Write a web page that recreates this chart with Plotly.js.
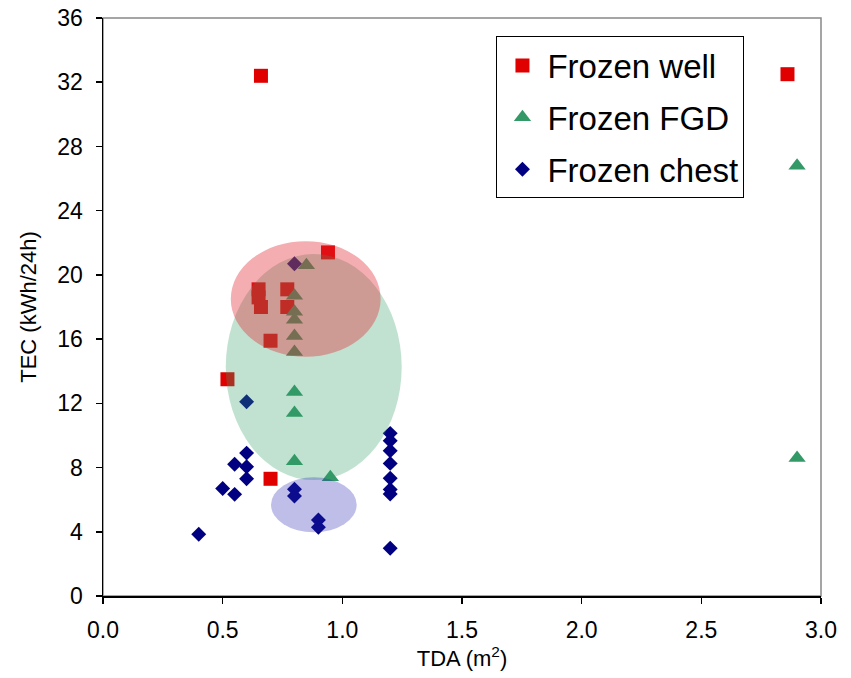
<!DOCTYPE html>
<html>
<head>
<meta charset="utf-8">
<script src="https://cdn.plot.ly/plotly-3.0.1.min.js"></script>
<style>html,body{margin:0;padding:0;background:#fff;}#chart{width:851px;height:678px;}</style>
</head>
<body>
<div id="chart"></div>
<script>
// Frozen well (red squares)
const wellX = [0.66, 2.86, 0.94, 0.65, 0.65, 0.66, 0.77, 0.77, 0.70, 0.52, 0.70];
const wellY = [32.4, 32.5, 21.4, 19.1, 18.6, 18.0, 19.1, 18.0, 15.9, 13.5, 7.3];
// Frozen FGD (green triangles)
const fgdX = [0.85, 0.80, 0.80, 0.80, 0.80, 0.80, 0.80, 0.80, 0.80, 0.95, 2.90, 2.90];
const fgdY = [20.6, 18.7, 17.7, 17.2, 16.2, 15.2, 12.7, 11.4, 8.4, 7.4, 26.8, 8.6];
// Frozen chest (blue diamonds)
const chestX = [0.80, 0.60, 0.60, 0.55, 0.60, 0.60, 0.50, 0.55, 0.80, 0.80, 0.90, 0.90, 0.40,
                1.20, 1.20, 1.20, 1.20, 1.20, 1.20, 1.20, 1.20];
const chestY = [20.7, 12.1, 8.9, 8.2, 8.05, 7.3, 6.7, 6.33, 6.65, 6.23, 4.73, 4.28, 3.85,
                10.13, 9.67, 9.05, 8.26, 7.33, 6.64, 6.35, 2.97];
// Highlight ellipses [x0, x1, y0, y1] per group
const ellipseWell = [0.534, 1.160, 14.9, 22.1];
const ellipseFGD = [0.513, 1.248, 7.22, 21.3];
const ellipseChest = [0.702, 1.060, 3.97, 7.39];
const xTicks = [0, 0.5, 1.0, 1.5, 2.0, 2.5, 3.0];
const yTicks = [0, 4, 8, 12, 16, 20, 24, 28, 32, 36];

const FONT = 'Arial, "Liberation Sans", sans-serif';

const traces = [
  {x: wellX, y: wellY, type: 'scatter', mode: 'markers', name: 'Frozen well', legendgroup: 'a',
   marker: {symbol: 'square', size: 14, color: '#e00000'}},
  {x: fgdX, y: fgdY, type: 'scatter', mode: 'markers', name: 'Frozen FGD', legendgroup: 'b',
   marker: {symbol: 'triangle-up', size: 15, color: '#339966'}},
  {x: chestX, y: chestY, type: 'scatter', mode: 'markers', name: 'Frozen chest', legendgroup: 'c',
   marker: {symbol: 'diamond', size: 11.5, color: '#000080'}}
];

function ell(e, color) {
  return {type: 'circle', xref: 'x', yref: 'y', x0: e[0], x1: e[1], y0: e[2], y1: e[3],
          layer: 'above', fillcolor: color, line: {width: 0}};
}

const layout = {
  width: 851, height: 678,
  margin: {l: 103, r: 30, t: 18, b: 82},
  paper_bgcolor: '#fff', plot_bgcolor: '#fff',
  font: {family: FONT, size: 23, color: '#000'},
  showlegend: true,
  legend: {x: 0.548, y: 0.968, xanchor: 'left', yanchor: 'top',
           bordercolor: '#000', borderwidth: 1, bgcolor: '#fff', itemwidth: 40,
           font: {family: FONT, size: 33, color: '#000'}, tracegroupgap: 6},
  xaxis: {range: [0, 3], tickvals: xTicks, ticktext: xTicks.map(v => v.toFixed(1)),
          ticks: 'outside', ticklen: 6, tickcolor: '#000', tickwidth: 1.5, ticklabelstandoff: 7,
          tickfont: {family: FONT, size: 23},
          showline: true, linecolor: '#000', linewidth: 1.5, showgrid: false, zeroline: false,
          title: {text: 'TDA (m<sup>2</sup>)', font: {family: FONT, size: 22}, standoff: 7}},
  yaxis: {range: [0, 36], tickvals: yTicks,
          ticks: 'outside', ticklen: 6, tickcolor: '#000', tickwidth: 1.5, ticklabelstandoff: 8,
          tickfont: {family: FONT, size: 23},
          showline: true, linecolor: '#000', linewidth: 1.5, showgrid: false, zeroline: false,
          title: {text: 'TEC (kWh/24h)', font: {family: FONT, size: 22}, standoff: 14}},
  shapes: [
    {type: 'rect', xref: 'paper', yref: 'paper', x0: 0, x1: 1, y0: 0, y1: 1,
     layer: 'below', line: {color: '#888', width: 1.5}},
    ell(ellipseFGD, 'rgba(51,160,102,0.30)'),
    ell(ellipseWell, 'rgba(225,40,50,0.38)'),
    ell(ellipseChest, 'rgba(40,40,180,0.30)')
  ]
};

Plotly.newPlot('chart', traces, layout, {displayModeBar: false, staticPlot: true});
</script>
</body>
</html>
